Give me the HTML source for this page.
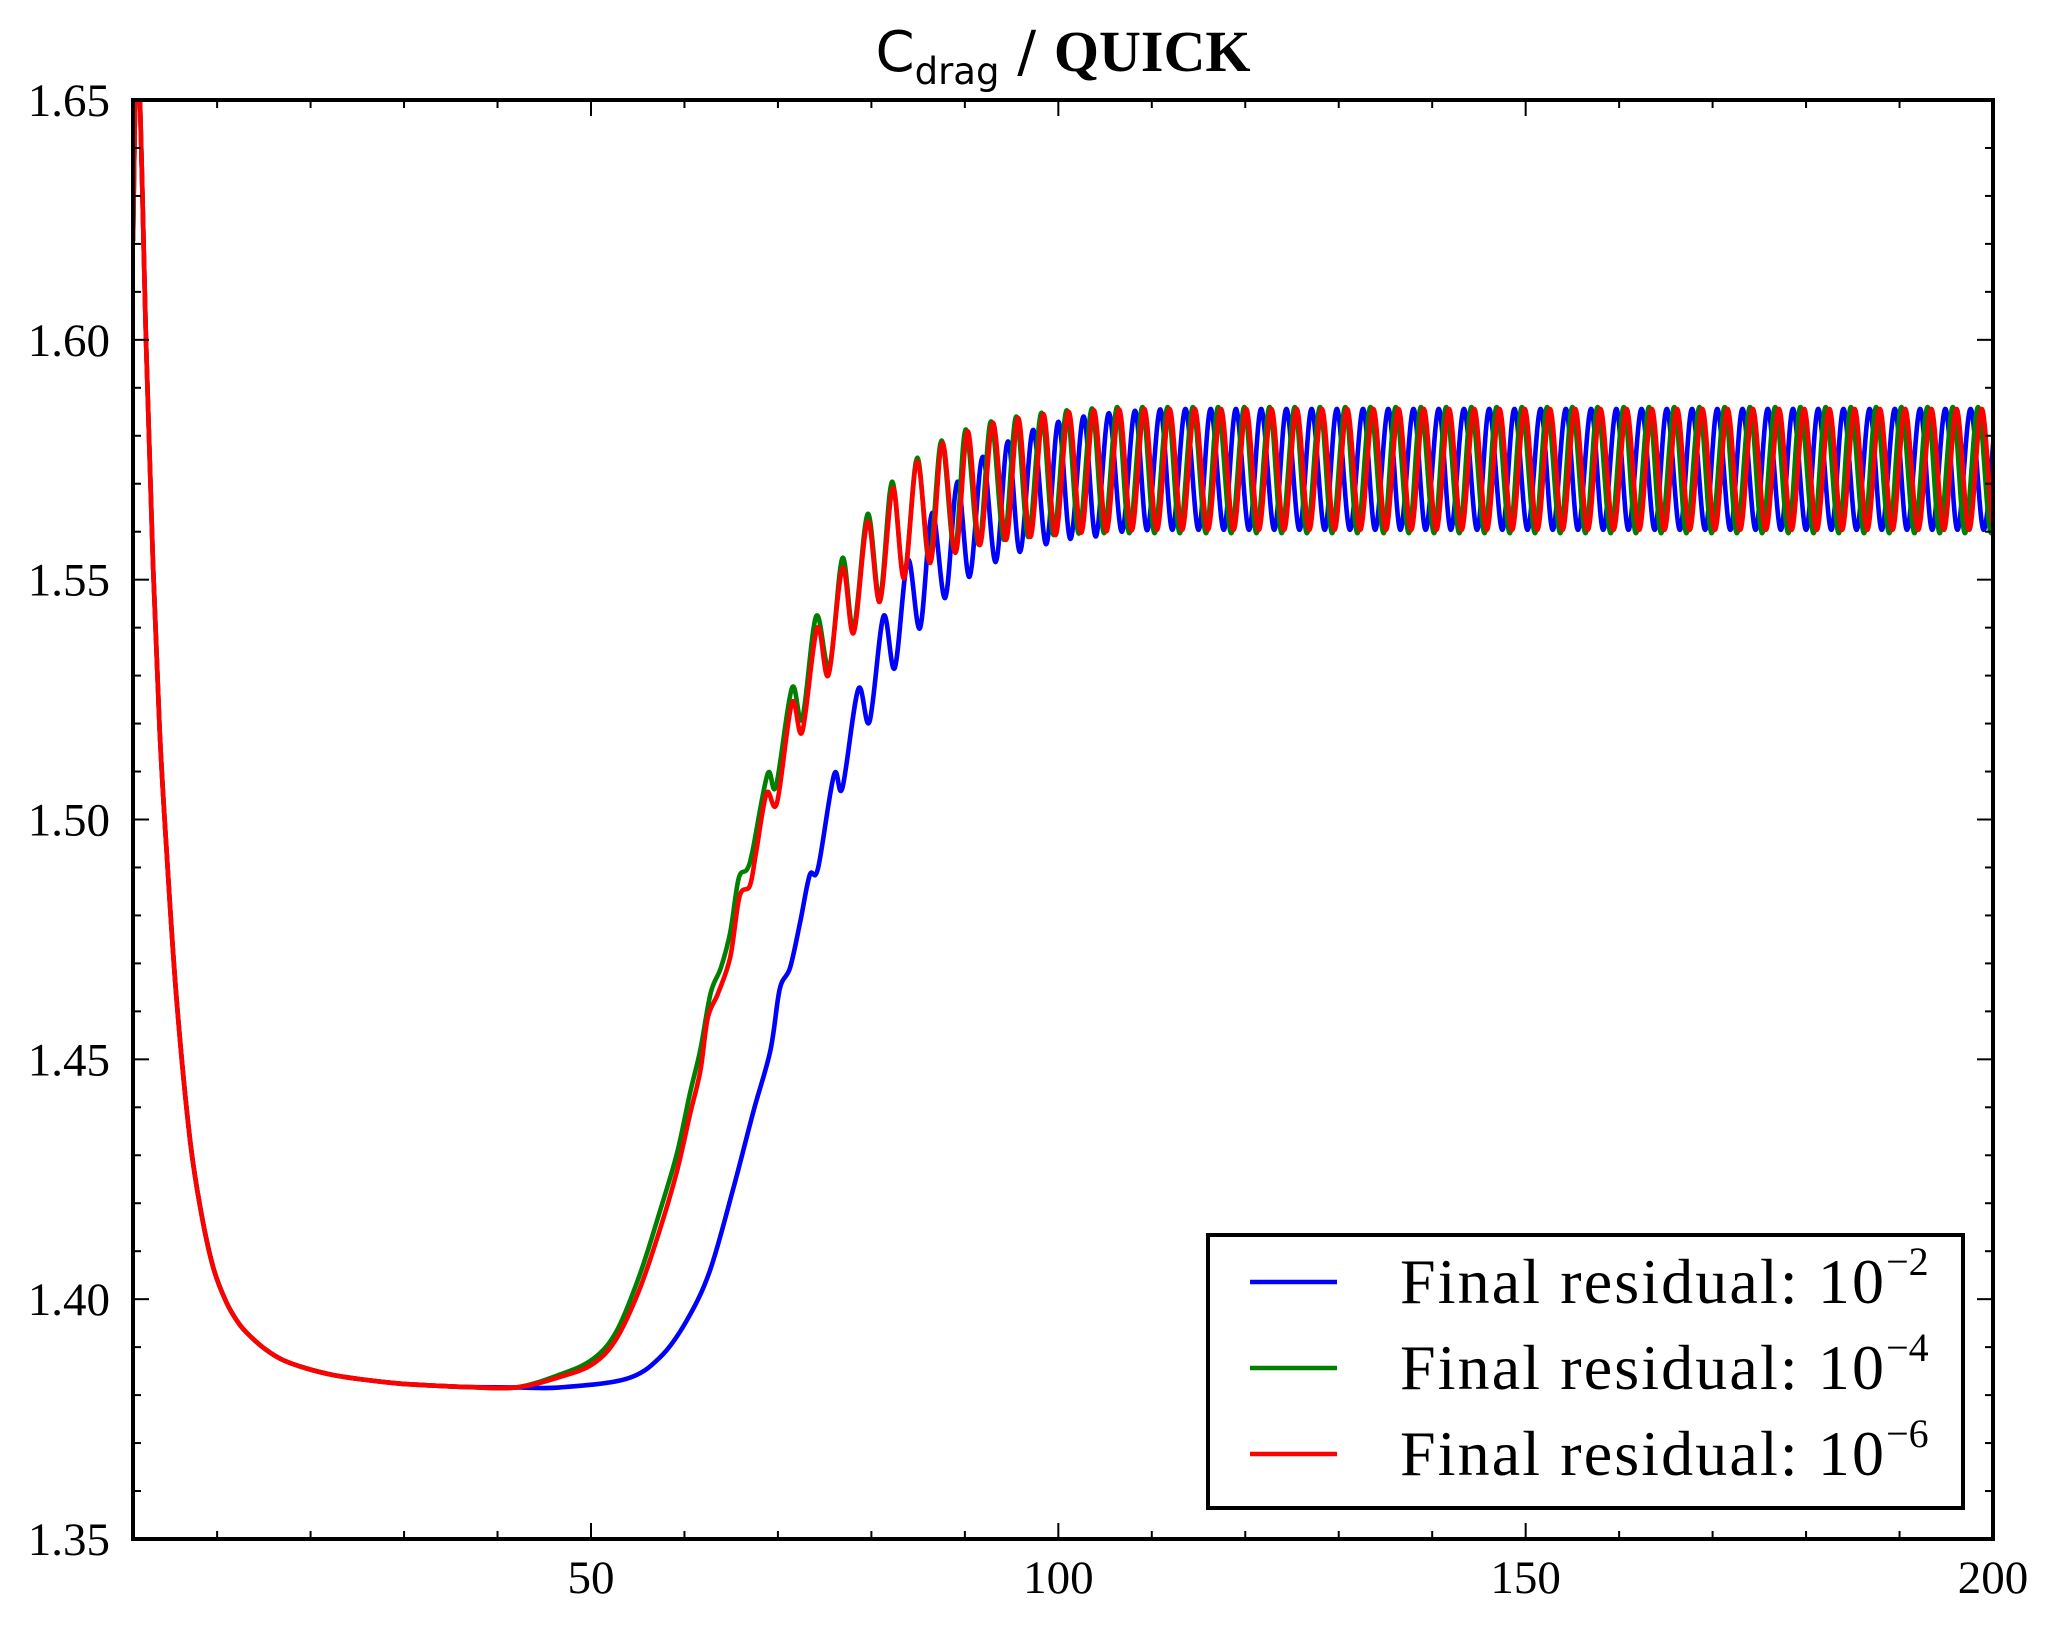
<!DOCTYPE html>
<html><head><meta charset="utf-8"><style>
html,body{margin:0;padding:0;background:#fff;}
svg{display:block;}
</style></head><body>
<svg id="chart" width="2059" height="1633" viewBox="0 0 2059 1633" xmlns="http://www.w3.org/2000/svg">
<defs><clipPath id="plotclip"><rect x="133" y="100" width="1860" height="1439"/></clipPath></defs>
<rect x="0" y="0" width="2059" height="1633" fill="#fff"/>
<text x="1063" y="71" text-anchor="middle" font-size="58"><tspan font-family="DejaVu Sans, sans-serif" font-size="56">C</tspan><tspan font-family="DejaVu Sans, sans-serif" font-size="37" dy="13">drag</tspan><tspan font-family="DejaVu Sans, sans-serif" font-size="56" dy="-13"> / </tspan><tspan font-family="Liberation Serif, serif" font-weight="bold">QUICK</tspan></text>
<g id="series" clip-path="url(#plotclip)"></g>
<g id="axes"></g>
<g>
<rect x="1208" y="1235" width="755" height="273" fill="#fff" stroke="#000" stroke-width="4"/>
<line x1="1250" y1="1282" x2="1337" y2="1282" stroke="#0000ff" stroke-width="4.5"/>
<line x1="1250" y1="1368" x2="1337" y2="1368" stroke="#008000" stroke-width="4.5"/>
<line x1="1250" y1="1454" x2="1337" y2="1454" stroke="#ff0000" stroke-width="4.5"/>
<text x="1400" y="1303" font-family="Liberation Serif, serif" font-size="64"><tspan textLength="484">Final residual: 10</tspan><tspan font-size="40" dy="-28">−2</tspan></text>
<text x="1400" y="1389" font-family="Liberation Serif, serif" font-size="64"><tspan textLength="484">Final residual: 10</tspan><tspan font-size="40" dy="-28">−4</tspan></text>
<text x="1400" y="1475" font-family="Liberation Serif, serif" font-size="64"><tspan textLength="484">Final residual: 10</tspan><tspan font-size="40" dy="-28">−6</tspan></text>
</g>
</svg>
<script>
// ---- data ----
const xTickLabels = ["50","100","150","200"];
const xTickValues = [50,100,150,200];
const yTickLabels = ["1.35","1.40","1.45","1.50","1.55","1.60","1.65"];
const yTickValues = [1.35,1.40,1.45,1.50,1.55,1.60,1.65];

const decayX = [1,1.5,2.42,3.14,3.85,4.56,5.63,7.06,8.3,9.6,10.98,12.3,13.48,15.2,17.05,19.5,22.4,25.8,29.5,33.0,36.6,42.0];
const decayY = [1.6206,1.662,1.5981,1.5533,1.5187,1.4945,1.4633,1.4339,1.4180,1.4065,1.3994,1.3950,1.3924,1.3895,1.3873,1.3856,1.3842,1.3832,1.3824,1.3820,1.3817,1.3816];

const blueX = [46.7,53.8,57.4,60.2,62.7,65.2,67.4,69.2,70.2,71.3,72.4,73.4,74.3,76.0,76.9,78.6,79.8,81.3,82.5,83.9,85.2,86.5,87.9,89.2,90.5,91.9,93.3,94.6,95.9,97.3,98.7,100.0,101.3,102.7,104.0,105.4,
106.8,108.2,109.5,110.9,112.2,113.6,115.0,116.3,117.7,119.0,120.4,121.7,123.1,124.4,125.8,127.1,128.5,129.8,131.2,132.6,133.9,135.3,136.6,138.0,139.3,140.7,142.0,143.4,144.8,146.1,147.5,148.8,150.2,151.6,152.9,154.3,155.6,157.0,158.3,159.7,161.0,162.4,163.8,165.1,166.5,167.8,169.2,170.5,171.9,173.2,174.6,175.9,177.3,178.6,180.0,181.3,182.7,184.0,185.4,186.8,188.1,189.5,190.8,192.2,193.5,194.9,196.2,197.6,199.0,200.3];
const blueY = [1.3816,1.3834,1.3879,1.3954,1.4058,1.4229,1.4393,1.4519,1.4647,1.4691,1.4788,1.4884,1.4899,1.5093,1.5066,1.5272,1.5204,1.5424,1.5316,1.5541,1.5399,1.5639,1.5462,1.5704,1.5506,1.5756,1.5537,1.5788,1.5558,1.5812,1.5574,1.5829,1.5585,1.5840,1.5590,1.5847,
1.5600,1.5852,1.5603,1.5855,
1.5604,1.5856,1.5604,1.5856,1.5604,1.5856,1.5604,1.5856,1.5604,1.5856,1.5604,1.5856,
1.5604,1.5856,1.5604,1.5856,1.5604,1.5856,1.5604,1.5856,1.5604,1.5856,1.5604,1.5856,
1.5604,1.5856,1.5604,1.5856,1.5604,1.5856,1.5604,1.5856,1.5604,1.5856,1.5604,1.5856,
1.5604,1.5856,1.5604,1.5856,1.5604,1.5856,1.5604,1.5856,1.5604,1.5856,1.5604,1.5856,
1.5604,1.5856,1.5604,1.5856,1.5604,1.5856,1.5604,1.5856,1.5604,1.5856,1.5604,1.5856,
1.5604,1.5856,1.5604,1.5856,1.5604,1.5856];

const greenX = [46.7,50.2,52.7,55.2,57.4,59.2,60.6,61.7,62.8,63.9,64.9,65.8,66.7,67.3,68.9,69.8,71.5,72.6,74.1,75.5,76.9,78.1,79.6,80.9,82.2,83.5,84.9,86.2,87.5,88.9,90.1,91.5,92.8,94.2,95.5,96.8,98.2,99.5,100.9,102.2,103.6,
104.9,106.3,107.6,109.0,110.3,111.7,113.0,114.4,115.8,117.1,118.5,119.9,121.2,122.6,123.9,125.3,126.6,128.0,129.3,130.7,132.0,133.4,134.8,136.1,137.5,138.8,140.2,141.5,142.9,144.2,145.6,146.9,148.3,149.6,151.0,152.3,153.7,155.0,156.4,157.7,159.1,160.5,161.8,163.2,164.5,165.9,167.2,168.6,169.9,171.3,172.6,174.0,175.3,176.7,178.1,179.4,180.8,182.1,183.5,184.8,186.2,187.5,188.9,190.2,191.6,193.0,194.3,195.7,197.0,198.4,199.8,201.1];
const greenY = [1.3843,1.3875,1.3932,1.4050,1.4185,1.4304,1.4430,1.4520,1.4638,1.4691,1.4765,1.4877,1.4896,1.4936,1.5095,1.5070,1.5274,1.5210,1.5424,1.5318,1.5545,1.5399,1.5637,1.5462,1.5704,1.5510,1.5754,1.5540,1.5790,1.5560,1.5813,1.5573,1.5830,1.5583,1.5840,1.5589,1.5848,1.5593,1.5853,1.5596,1.5857,
1.5597,1.5860,1.5597,1.5860,1.5597,1.5860,1.5597,1.5860,1.5597,1.5860,1.5597,1.5860,
1.5597,1.5860,1.5597,1.5860,1.5597,1.5860,1.5597,1.5860,1.5597,1.5860,1.5597,1.5860,
1.5597,1.5860,1.5597,1.5860,1.5597,1.5860,1.5597,1.5860,1.5597,1.5860,1.5597,1.5860,
1.5597,1.5860,1.5597,1.5860,1.5597,1.5860,1.5597,1.5860,1.5597,1.5860,1.5597,1.5860,
1.5597,1.5860,1.5597,1.5860,1.5597,1.5860,1.5597,1.5860,1.5597,1.5860,1.5597,1.5860,
1.5597,1.5860,1.5597,1.5860,1.5597,1.5860,1.5597,1.5860,1.5597,1.5860,1.5597,1.5860];

const redX = [46.7,50.2,52.7,55.2,57.4,59.2,60.6,61.7,62.5,63.6,64.9,65.9,67.0,67.7,68.8,69.9,71.5,72.6,74.2,75.4,76.9,78.1,79.6,80.9,82.3,83.5,84.9,86.3,87.6,89.0,90.3,91.6,93.0,94.4,95.7,97.0,98.4,99.7,101.1,102.45,103.8,
105.15,106.5,107.85,109.2,110.55,111.9,113.25,114.6,116.0,117.4,118.75,120.1,121.45,122.8,124.15,125.5,126.85,128.2,129.55,130.9,132.3,133.7,135.05,136.4,137.75,139.1,140.45,141.8,143.15,144.5,145.85,147.2,148.55,149.9,151.25,152.6,153.95,155.3,156.65,158.0,159.4,160.8,162.15,163.5,164.85,166.2,167.55,168.9,170.25,171.6,172.95,174.3,175.7,177.1,178.45,179.8,181.15,182.5,183.85,185.2,186.55,187.9,189.25,190.6,192.0,193.4,194.75,196.1,197.45,198.8,200.15,201.5];
const redY = [1.3838,1.3865,1.3917,1.4021,1.4147,1.4267,1.4386,1.4476,1.4587,1.4638,1.4713,1.4840,1.4862,1.4936,1.5055,1.5035,1.5243,1.5183,1.5399,1.5301,1.5524,1.5389,1.5621,1.5454,1.5691,1.5503,1.5746,1.5535,1.5785,1.5556,1.5809,1.5572,1.5827,1.5583,1.5837,1.5589,1.5845,1.5593,1.5850,1.5598,1.5853,
1.5601,1.5855,1.5603,1.5856,
1.5604,1.5856,1.5604,1.5856,1.5604,1.5856,1.5604,1.5856,1.5604,1.5856,1.5604,1.5856,
1.5604,1.5856,1.5604,1.5856,1.5604,1.5856,1.5604,1.5856,1.5604,1.5856,1.5604,1.5856,
1.5604,1.5856,1.5604,1.5856,1.5604,1.5856,1.5604,1.5856,1.5604,1.5856,1.5604,1.5856,
1.5604,1.5856,1.5604,1.5856,1.5604,1.5856,1.5604,1.5856,1.5604,1.5856,1.5604,1.5856,
1.5604,1.5856,1.5604,1.5856,1.5604,1.5856,1.5604,1.5856,1.5604,1.5856,1.5604,1.5856,
1.5604,1.5856,1.5604,1.5856,1.5604,1.5856,1.5604,1.5856];

// ---- axes ----
const X0=133, X1=1993, Y0=100, Y1=1539;
const xMin=1, xMax=200, yMin=1.35, yMax=1.65;
function sx(v){return X0+(v-xMin)/(xMax-xMin)*(X1-X0);}
function sy(v){return Y1-(v-yMin)/(yMax-yMin)*(Y1-Y0);}
const NS='http://www.w3.org/2000/svg';

function catmull(xs,ys){
  const n=Math.min(xs.length,ys.length);
  const p=[];
  for(let i=0;i<n;i++) p.push([sx(xs[i]),sy(ys[i])]);
  let d='M'+p[0][0].toFixed(2)+','+p[0][1].toFixed(2);
  for(let i=0;i<p.length-1;i++){
    const a=p[Math.max(0,i-1)],b=p[i],c=p[i+1],e=p[Math.min(p.length-1,i+2)];
    const c1x=b[0]+(c[0]-a[0])/6,c1y=b[1]+(c[1]-a[1])/6;
    const c2x=c[0]-(e[0]-b[0])/6,c2y=c[1]-(e[1]-b[1])/6;
    d+=' C'+c1x.toFixed(2)+','+c1y.toFixed(2)+' '+c2x.toFixed(2)+','+c2y.toFixed(2)+' '+c[0].toFixed(2)+','+c[1].toFixed(2);
  }
  return d;
}
const sg=document.getElementById('series');
function addSeries(xs,ys,color,name){
  const path=document.createElementNS(NS,'path');
  path.setAttribute('d',catmull(decayX.concat(xs),decayY.concat(ys)));
  path.setAttribute('fill','none');
  path.setAttribute('stroke',color);
  path.setAttribute('stroke-width','4.6');
  path.setAttribute('stroke-linejoin','round');
  
  
  sg.appendChild(path);
}
addSeries(blueX,blueY,'#0000ff','series-residual-1e-2');
addSeries(greenX,greenY,'#008000','series-residual-1e-4');
addSeries(redX,redY,'#ff0000','series-residual-1e-6');

const ax=document.getElementById('axes');
function line(x1,y1,x2,y2,w,name){
  const l=document.createElementNS(NS,'line');
  l.setAttribute('x1',x1);l.setAttribute('y1',y1);l.setAttribute('x2',x2);l.setAttribute('y2',y2);
  l.setAttribute('stroke','#000');l.setAttribute('stroke-width',w);
  
  
  ax.appendChild(l);
}
function text(x,y,s,anchor,name){
  const t=document.createElementNS(NS,'text');
  t.setAttribute('x',x);t.setAttribute('y',y);t.setAttribute('text-anchor',anchor);
  t.setAttribute('font-family','Liberation Serif, serif');t.setAttribute('font-size','47');
  t.textContent=s;
  
  
  ax.appendChild(t);
}
for(let v=10; v<=200; v+=10){
  const major=xTickValues.indexOf(v)>=0, L=major?16:8, x=sx(v);
  line(x,Y1,x,Y1-L,2,'x-tick');
  line(x,Y0,x,Y0+L,2,'x-tick-top');
}
for(let k=0;k<=30;k++){
  const v=yMin+k*0.01, major=(k%5===0), L=major?16:8, y=sy(v);
  line(X0,y,X0+L,y,2,'y-tick');
  line(X1,y,X1-L,y,2,'y-tick-right');
}
xTickValues.forEach((v,i)=>text(sx(v),1593,xTickLabels[i],'middle','x-tick-label'));
yTickValues.forEach((v,i)=>text(110,sy(v)+16,yTickLabels[i],'end','y-tick-label'));
const fr=document.createElementNS(NS,'rect');
fr.setAttribute('x',X0);fr.setAttribute('y',Y0);fr.setAttribute('width',X1-X0);fr.setAttribute('height',Y1-Y0);
fr.setAttribute('fill','none');fr.setAttribute('stroke','#000');fr.setAttribute('stroke-width','4');


ax.appendChild(fr);
</script>
</body></html>
